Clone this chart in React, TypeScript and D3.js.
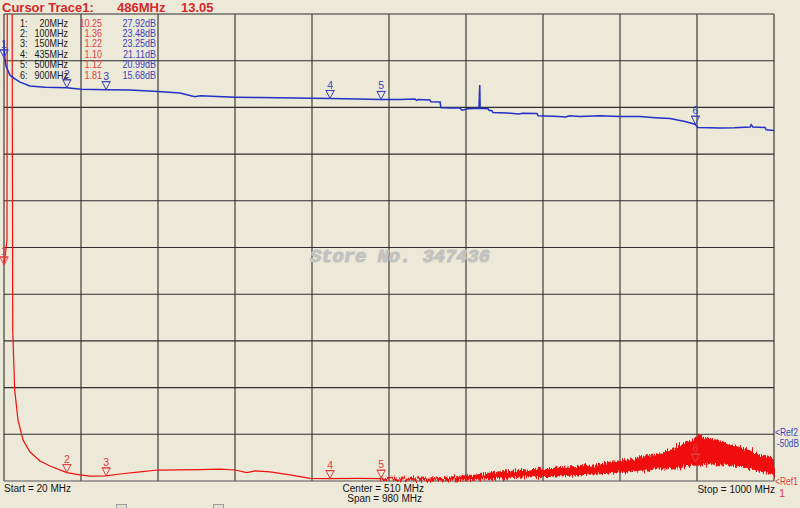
import React from "react";
import * as d3 from "d3";

// ---- data ----
const markerFreqs = [20, 100, 150, 435, 500, 900];
const legendVswr = [10.25, 1.36, 1.22, 1.1, 1.12, 1.81];
const legendDb = [27.92, 23.48, 23.25, 21.11, 20.99, 15.68];
// marker symbol positions on the traces
const markerBluePos = [30.6, 24.2, 23.8, 21.9, 21.7, 16.4];
const markerRedPos = [10.25, 1.36, 1.22, 1.1, 1.12, 1.81];

// blue trace: [MHz, dB]
const blueTrace: [number, number][] = [
  [20, 34.4], [20.6, 31.2], [22.5, 28.9], [27.6, 26.9], [34, 26.1], [40.4, 25.4],
  [53.1, 24.6], [72.2, 24.3], [100, 24.2], [118, 23.9], [150, 23.8], [180.4, 23.7],
  [216, 23.4], [244, 23.1], [263, 22.3], [269.5, 22.5], [314, 22.2], [345.8, 22.1],
  [412, 21.95], [435, 21.9], [470, 21.8], [500, 21.7], [524, 21.7], [543, 21.8],
  [545, 21.5], [547, 21.7], [562, 21.6], [563.3, 21.2], [575, 21.15], [576.2, 19.9],
  [590, 19.85], [600, 19.9], [603, 19.4], [610.5, 19.7], [624.5, 19.8], [625.5, 24.8],
  [626, 19.8], [636, 19.7], [637.3, 19.4], [641, 19.3], [642.3, 18.9], [660, 18.8],
  [675, 18.6], [680, 18.75], [698.4, 18.7], [699.7, 18.2], [720, 18.1], [735, 17.95],
  [740, 18.2], [753, 18.05], [778.5, 18.2], [804, 18.05], [829.5, 18.05], [848.5, 17.8],
  [867.6, 17.6], [886.7, 17.0], [899.4, 16.4], [903.3, 15.7], [931, 15.6], [950, 15.65],
  [969.5, 15.8], [971, 16.3], [973, 15.8], [988.6, 15.7], [990, 15.2], [1000, 15.05],
];

// red trace: [MHz, VSWR]
const redTrace: [number, number][] = [
  [20, 10.25], [23.8, 11.3], [24.2, 24], [30.2, 24], [31.1, 7.47], [33.6, 4.9],
  [37.8, 3.61], [44.2, 2.76], [53.1, 2.24], [65.8, 1.86], [78.5, 1.64], [100, 1.36],
  [116.7, 1.26], [129.5, 1.21], [150, 1.22], [167.6, 1.3], [193, 1.39], [216, 1.47],
  [269.5, 1.49], [295, 1.51], [314, 1.47], [329, 1.36], [339.5, 1.43], [358.5, 1.39],
  [384, 1.26], [409.5, 1.11], [435, 1.1], [470, 1.11], [500, 1.1],
];

// noisy part of red trace: envelope (low / high)
const noiseFreq = [500, 510, 520, 530, 540, 550, 560, 570, 580, 590, 600, 610, 620, 630, 640, 650,
  660, 670, 680, 690, 700, 710, 720, 730, 740, 750, 760, 770, 780, 790, 800, 810, 820, 830, 840,
  850, 860, 870, 880, 890, 900, 905, 910, 920, 930, 940, 950, 960, 970, 980, 990, 1000];
const noiseLow = [1.06, 1.05, 1.06, 1.04, 1.05, 1.03, 1.03, 1.04, 1.04, 1.04, 1.05, 1.05, 1.07,
  1.09, 1.1, 1.13, 1.13, 1.15, 1.17, 1.18, 1.19, 1.19, 1.21, 1.22, 1.24, 1.26, 1.28, 1.3, 1.31,
  1.34, 1.39, 1.38, 1.43, 1.47, 1.47, 1.51, 1.51, 1.56, 1.56, 1.64, 1.69, 1.66, 1.69, 1.75, 1.7,
  1.68, 1.64, 1.6, 1.51, 1.43, 1.38, 1.25];
const noiseHigh = [1.12, 1.11, 1.13, 1.12, 1.13, 1.12, 1.13, 1.14, 1.15, 1.17, 1.2, 1.24, 1.25,
  1.3, 1.35, 1.39, 1.4, 1.44, 1.45, 1.48, 1.5, 1.53, 1.54, 1.58, 1.6, 1.63, 1.67, 1.68, 1.74,
  1.8, 1.82, 1.88, 1.92, 2.0, 2.05, 2.12, 2.24, 2.34, 2.52, 2.68, 2.8, 3.0, 2.84, 2.78, 2.72,
  2.6, 2.5, 2.4, 2.28, 2.16, 2.08, 1.92];

const headerText = ["Cursor Trace1:", "486MHz", "13.05"];
const bottomLabels = ["Start = 20 MHz", "Center = 510 MHz", "Span = 980 MHz", "Stop = 1000 MHz"];

// ---- layout ----
const W = 800, H = 508;
const PL = 4, PR = 774, PT = 14, PB = 481;
const BG = "#ECE9D8";
const BLUE = "#2430C8";
const BLUE_T = "#3A44B8";
const RED = "#F01010";
const RED_T = "#E04040";
const FONT = "'Liberation Sans', Arial, sans-serif";

const x = d3.scaleLinear().domain([20, 1000]).range([PL, PR]);
const yRed = d3.scaleLinear().domain([1, 21]).range([PB, PT]);
const yBlue = d3.scaleLinear().domain([-60, 40]).range([PB, PT]);

const gridF = d3.range(11).map((i) => 20 + i * 98);
const gridV = d3.range(11).map((i) => 1 + i * 2);

function NT({ x, y, anchor, fill, children, size = 10.5, sx = 0.86 }: any) {
  return (
    <text transform={`translate(${x},${y}) scale(${sx},1)`} textAnchor={anchor || "start"} fill={fill}
      fontSize={size} fontFamily={FONT}>{children}</text>
  );
}

function Marker({ cx, cy, label, color }: { cx: number; cy: number; label: string; color: string }) {
  return (
    <g>
      <path d={`M${cx - 4},${cy - 8}L${cx + 4},${cy - 8}L${cx},${cy}Z`} fill="none" stroke={color} strokeWidth={1} />
      <line x1={cx - 4.5} x2={cx + 4.5} y1={cy - 8} y2={cy - 8} stroke={color} strokeWidth={1} />
      <text x={cx} y={cy - 10} fontSize={10.5} fill={color} textAnchor="middle" fontFamily={FONT}>{label}</text>
    </g>
  );
}

export default function App() {
  const blueLine = d3.line<[number, number]>().x((d) => x(d[0])).y((d) => yBlue(d[1]))(blueTrace) || "";
  const redLine = d3.line<[number, number]>().x((d) => x(d[0])).y((d) => yRed(d[1]))(redTrace) || "";
  const band = d3
    .area<number>()
    .x((_, i) => x(noiseFreq[i]))
    .y0((_, i) => yRed(noiseLow[i]))
    .y1((_, i) => yRed(noiseHigh[i]))(noiseFreq) || "";

  const rowY = (i: number) => 26.5 + i * 10.4;

  return (
    <svg width={W} height={H} style={{ position: "absolute", left: 0, top: 0 }} xmlns="http://www.w3.org/2000/svg">
      <defs>
        <clipPath id="plotClip">
          <rect x={0} y={PT} width={PR + 1} height={PB - PT + 2} />
        </clipPath>
        <filter id="noisy" x="-2%" y="-60%" width="104%" height="220%">
          <feTurbulence type="fractalNoise" baseFrequency="0.9 0.08" numOctaves={2} seed={7} result="t" />
          <feDisplacementMap in="SourceGraphic" in2="t" scale={9} xChannelSelector="A" yChannelSelector="G" />
        </filter>
      </defs>
      <rect x={0} y={0} width={W} height={H} fill={BG} />

      {/* grid */}
      {gridF.map((f, i) => (
        <line key={"v" + i} x1={x(f)} x2={x(f)} y1={PT} y2={PB} stroke="#2e2e2e" strokeWidth={1.1} />
      ))}
      {gridV.map((v, i) => (
        <line key={"h" + i} x1={PL} x2={PR} y1={yRed(v)} y2={yRed(v)} stroke={i === 0 ? "#555" : "#2e2e2e"} strokeWidth={1.1} />
      ))}

      {/* watermark */}
      <text x={310} y={262} fontFamily="'Liberation Mono', 'DejaVu Sans Mono', monospace" fontWeight="bold" fontStyle="italic"
        fontSize={18.7} textLength={180} lengthAdjust="spacingAndGlyphs"
        fill="#C2C2BE" stroke="#C2C2BE" strokeWidth={1.1} strokeLinejoin="round">Store No. 347436</text>

      {/* traces */}
      <g clipPath="url(#plotClip)">
        <path d={redLine} fill="none" stroke={RED} strokeWidth={1.2} />
        <g filter="url(#noisy)">
          <path d={band} fill={RED} stroke={RED} strokeWidth={1} />
        </g>
        <path d={blueLine} fill="none" stroke={BLUE} strokeWidth={1.5} />
      </g>

      {/* markers */}
      {markerFreqs.map((f, i) => (
        <Marker key={"mb" + i} cx={x(f)} cy={yBlue(markerBluePos[i])} label={String(i + 1)} color={BLUE_T} />
      ))}
      {markerFreqs.map((f, i) => (
        <Marker key={"mr" + i} cx={x(f)} cy={yRed(markerRedPos[i])} label={String(i + 1)} color={RED_T} />
      ))}

      {/* header */}
      <g fontFamily={FONT} fontWeight="bold" fontSize={13} fill="#D42A2A">
        <text x={2} y={12}>{headerText[0]}</text>
        <text x={117} y={12}>{headerText[1]}</text>
        <text x={181} y={12}>{headerText[2]}</text>
      </g>

      {/* legend table */}
      {markerFreqs.map((f, i) => (
        <g key={"lg" + i}>
          <NT x={20} y={rowY(i)} fill="#1a1a1a">{`${i + 1}:`}</NT>
          <NT x={68} y={rowY(i)} fill="#1a1a1a" anchor="end">{`${f}MHz`}</NT>
          <NT x={102} y={rowY(i)} fill={RED_T} anchor="end">{legendVswr[i].toFixed(2)}</NT>
          <NT x={156} y={rowY(i)} fill={BLUE_T} anchor="end">{legendDb[i].toFixed(2) + "dB"}</NT>
        </g>
      ))}

      {/* reference labels */}
      <NT x={775} y={436} fill={BLUE_T} size={10} sx={0.85}>{"<Ref2"}</NT>
      <NT x={777} y={447} fill={BLUE_T} size={10} sx={0.82}>-50dB</NT>
      <NT x={775} y={485} fill={RED_T} size={10} sx={0.85}>{"<Ref1"}</NT>
      <text x={779} y={497} fill={RED_T} fontSize={11} fontFamily={FONT}>1</text>

      {/* bottom labels */}
      <g fontFamily={FONT} fontSize={10} fill="#141414">
        <text x={4} y={492}>{bottomLabels[0]}</text>
        <text x={424} y={492} textAnchor="end">{bottomLabels[1]}</text>
        <text x={422} y={502} textAnchor="end">{bottomLabels[2]}</text>
        <text x={775} y={493} textAnchor="end">{bottomLabels[3]}</text>
      </g>

      {/* partially visible controls at bottom */}
      <rect x={116.5} y={504.5} width={10} height={8} fill="#E4E1D2" stroke="#9a9a9a" />
      <rect x={213.5} y={504.5} width={10} height={8} fill="#E4E1D2" stroke="#9a9a9a" />
    </svg>
  );
}
